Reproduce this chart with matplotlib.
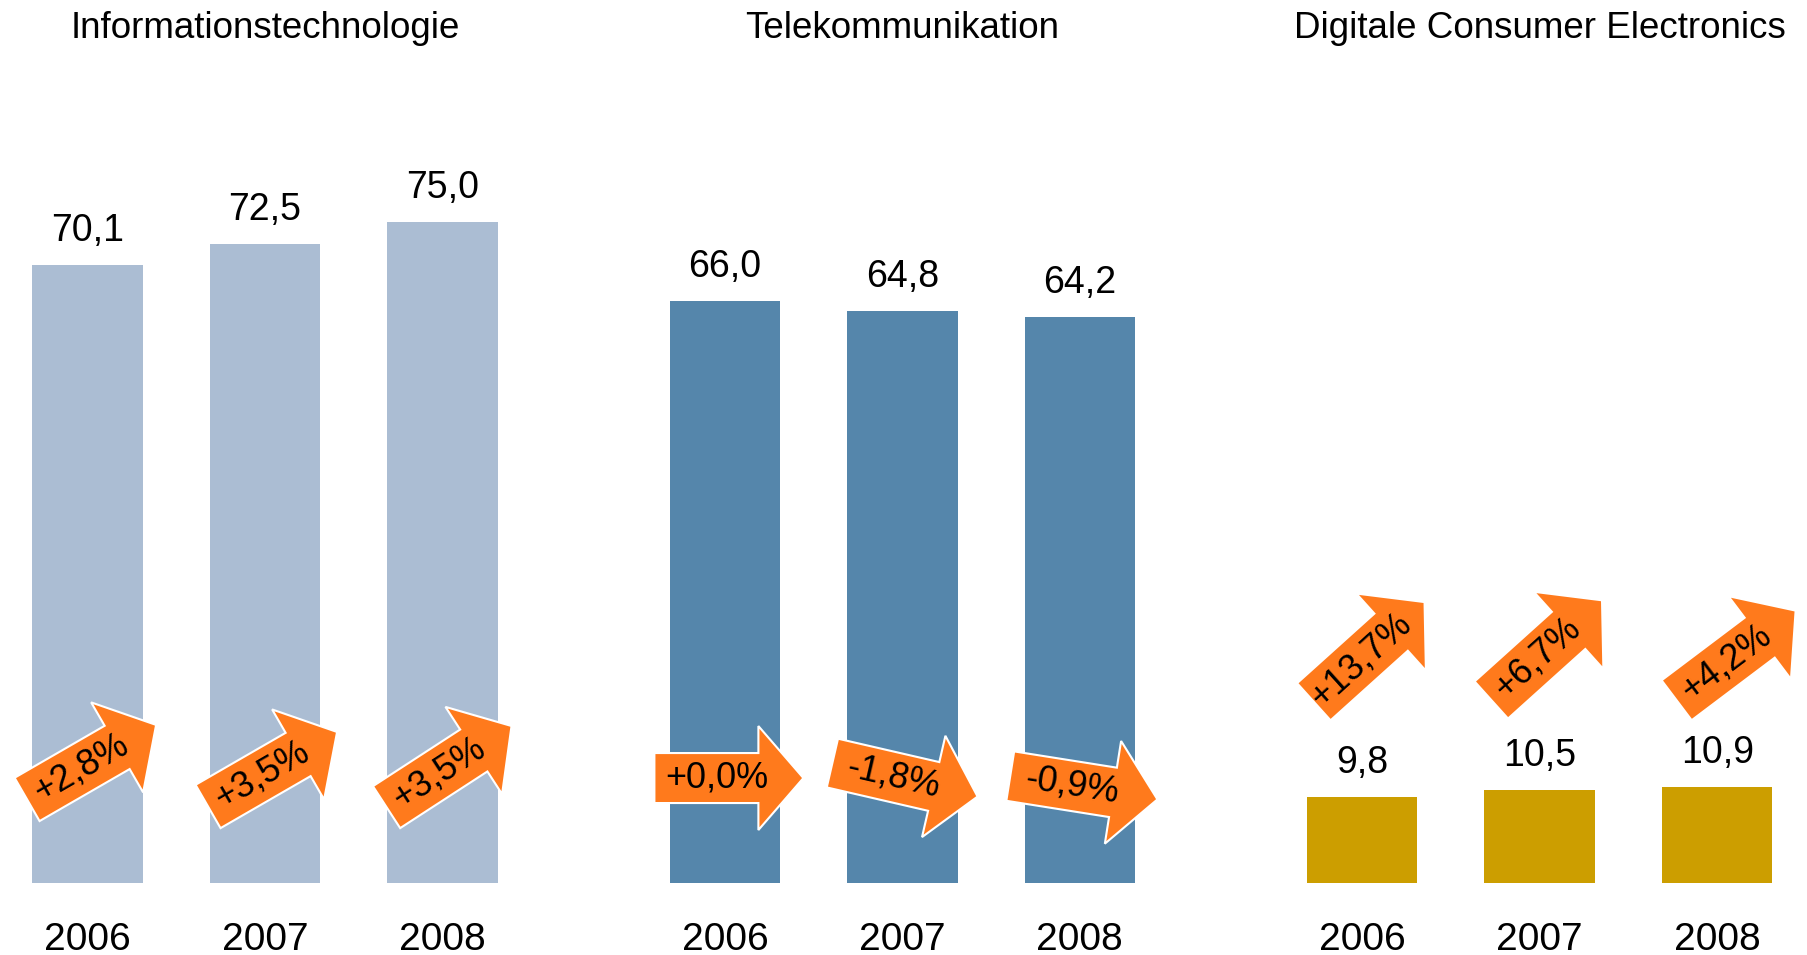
import matplotlib
matplotlib.use("Agg")
import matplotlib.pyplot as plt
from matplotlib.patches import Polygon
from matplotlib.transforms import Affine2D, ScaledTranslation
import numpy as np

plt.rcParams['font.family'] = ['Liberation Sans', 'DejaVu Sans']

# ---------------- data ----------------
groups = ["Informationstechnologie", "Telekommunikation", "Digitale Consumer Electronics"]
years = ["2006", "2007", "2008"]
it_values = [70.1, 72.5, 75.0]
tk_values = [66.0, 64.8, 64.2]
dce_values = [9.8, 10.5, 10.9]
it_growth = ["+2,8%", "+3,5%", "+3,5%"]
tk_growth = ["+0,0%", "-1,8%", "-0,9%"]
dce_growth = ["+13,7%", "+6,7%", "+4,2%"]

# ---------------- style ----------------
bar_colors = ["#ABBDD3", "#5586AB", "#CC9E00"]
arrow_color = "#FF7A1C"
# arrow placement (data y of arrow centre, rotation deg, x-offset px)
arrow_y = [[13.7, 12.9, 13.2], [11.9, 11.7, 10.8], [26.2, 26.4, 25.8]]
arrow_angle = [[30, 30, 33], [0, -13, -9], [42, 42, 37]]
arrow_dx = [[4, 7.5, 6.5], [4, 2.6, 4], [7, 7, 19]]

values = [it_values, tk_values, dce_values]
growth = [it_growth, tk_growth, dce_growth]

W, H = 1807, 955
fig = plt.figure(figsize=(W / 100, H / 100), dpi=100)
ax = fig.add_axes([0, 0, 1, 1])
ax.axis("off")

group_step = 3.591
unit_px = 177.47
xmin = -87.6 / unit_px
ax.set_xlim(xmin, xmin + W / unit_px)
ppu = 8.82
ax.set_ylim(-(H - 883) / ppu, 883 / ppu)

PX2PT = 0.72

# arrow shape in pixels, pointing +x, centred at origin
L, bw, hw, hl = 149, 25, 52, 45
shape = np.array([
    [-L / 2, -bw], [L / 2 - hl, -bw], [L / 2 - hl, -hw], [L / 2, 0],
    [L / 2 - hl, hw], [L / 2 - hl, bw], [-L / 2, bw]
])

for g in range(3):
    xs = [g * group_step + i for i in range(3)]
    ax.bar(xs, values[g], width=0.623, color=bar_colors[g], zorder=2)
    for i, x in enumerate(xs):
        v = values[g][i]
        ax.annotate(f"{v:.1f}".replace(".", ","), xy=(x, v), xytext=(0, 34 * PX2PT),
                    textcoords="offset points", ha="center", va="center", fontsize=27)
        ax.annotate(years[i], xy=(x, 0), xytext=(0, -57 * PX2PT),
                    textcoords="offset points", ha="center", va="center", fontsize=28)
        ang = arrow_angle[g][i]
        ay = arrow_y[g][i]
        tr = (Affine2D().rotate_deg(ang).translate(arrow_dx[g][i], 0)
              + ScaledTranslation(x, ay, ax.transData))
        poly = Polygon(shape, closed=True, facecolor=arrow_color, edgecolor="white",
                       linewidth=1.5, transform=tr, zorder=3)
        ax.add_patch(poly)
        r = np.deg2rad(ang)
        ox = arrow_dx[g][i] - 12 * np.cos(r)
        oy = -12 * np.sin(r)
        ax.annotate(growth[g][i], xy=(x, ay), xytext=(ox * PX2PT, oy * PX2PT),
                    textcoords="offset points", ha="center", va="center",
                    rotation=ang, rotation_mode="anchor", fontsize=26, zorder=4)
    ax.text(xs[1], 1 - 28.5 / H, groups[g], transform=ax.get_xaxis_transform(),
            ha="center", va="center", fontsize=26.5)

fig.savefig("out.png", dpi=100, facecolor="white")
